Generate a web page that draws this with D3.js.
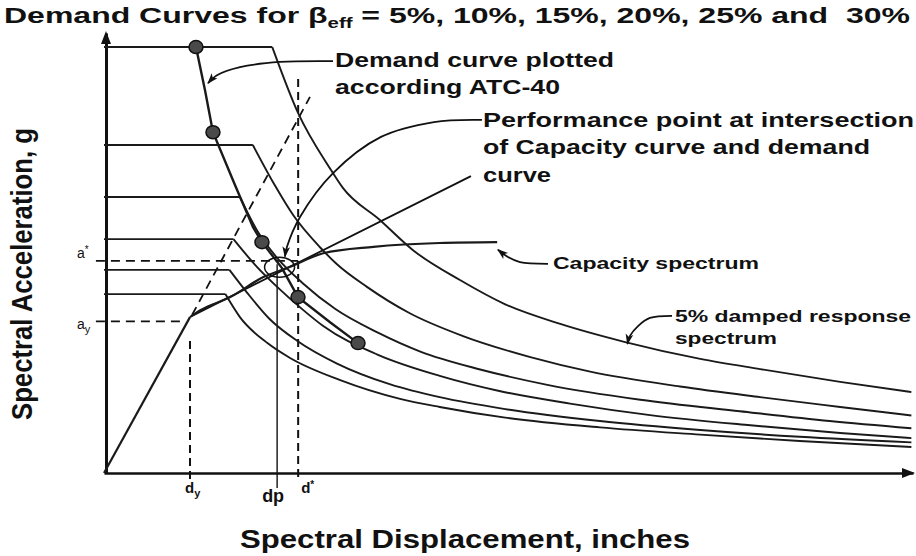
<!DOCTYPE html>
<html>
<head>
<meta charset="utf-8">
<script src="https://cdn.jsdelivr.net/npm/d3@7"></script>
<style>
  body { margin: 0; background: #fff; }
  text { font-family: "Liberation Sans", Arial, sans-serif; fill: #111; }
</style>
</head>
<body>
<div id="chart"></div>
<script>
var svgWidth = 916;
var svgHeight = 556;

// demand spectra, [Sd (in), Sa (g)]
var demand5  = [[0,1.00],[2.08,1.00],[2.40,0.845],[2.79,0.716],[2.95,0.670],[3.41,0.594],[3.82,0.523],[4.40,0.453],[4.96,0.396],[5.64,0.350],[6.43,0.308],[7.37,0.268],[8.11,0.244],[9.10,0.214],[9.98,0.190]];
var demand10 = [[0,0.770],[1.84,0.770],[2.11,0.676],[2.34,0.605],[2.67,0.530],[2.88,0.490],[3.25,0.437],[3.78,0.375],[4.43,0.322],[5.27,0.272],[6.01,0.238],[7.12,0.203],[8.11,0.178],[9.10,0.155],[9.98,0.135]];
var demand15 = [[0,0.648],[1.68,0.648],[1.89,0.570],[2.14,0.505],[2.46,0.445],[2.86,0.385],[3.38,0.330],[3.91,0.285],[4.65,0.243],[5.48,0.207],[6.63,0.172],[7.86,0.145],[8.97,0.122],[9.98,0.105]];
var demand20 = [[0,0.549],[1.60,0.549],[1.89,0.484],[2.14,0.437],[2.46,0.383],[2.71,0.345],[3.38,0.278],[4.15,0.228],[4.90,0.192],[5.76,0.163],[6.75,0.136],[7.99,0.112],[9.10,0.094],[9.98,0.082]];
var demand25 = [[0,0.477],[1.55,0.477],[1.77,0.423],[2.05,0.361],[2.39,0.310],[2.88,0.257],[3.54,0.208],[4.15,0.178],[4.96,0.150],[6.13,0.122],[7.37,0.101],[8.60,0.085],[9.98,0.072]];
var demand30 = [[0,0.420],[1.50,0.420],[1.68,0.366],[2.02,0.305],[2.30,0.270],[2.92,0.218],[3.66,0.174],[4.15,0.155],[4.96,0.130],[6.13,0.107],[7.37,0.090],[8.60,0.075],[9.98,0.061]];

var capacity = [[0,0],[1.063,0.366],[1.19,0.382],[1.56,0.413],[1.97,0.460],[2.30,0.484],[2.71,0.516],[3.33,0.531],[4.15,0.540],[4.86,0.542]];

// demand curve plotted per ATC-40 and its dots
var atc40 = [[1.137,1.000],[1.248,0.899],[1.347,0.800],[1.619,0.676],[1.842,0.577],[1.953,0.542],[2.200,0.481],[2.398,0.413],[2.794,0.354],[3.140,0.305]];
var atc40Dots = [[1.137,1.000],[1.347,0.800],[1.953,0.542],[2.398,0.413],[3.140,0.305]];

var perfPoint = [2.17, 0.483];
var yieldPoint = [1.063, 0.371];
var aStar = 0.498, dStar = 2.40, dP = 2.14;
var dashedSlope = [[1.088, 0.371], [2.546, 0.883]];
var secant = [[1.088, 0.369], [4.536, 0.697]];

// annotation leaders
var leaderDemand = [[2.831,0.967],[2.176,0.965],[1.681,0.953],[1.397,0.934],[1.286,0.915]];
var leaderPerf = [[4.672,0.829],[4.079,0.824],[3.424,0.789],[2.831,0.704],[2.423,0.601],[2.262,0.531],[2.237,0.508]];
var leaderCap = [[5.488,0.491],[5.142,0.495],[4.994,0.507],[4.870,0.524]];
var leaderDamped = [[7.021,0.369],[6.749,0.364],[6.601,0.345],[6.502,0.322],[6.470,0.303]];

///////////////////////////////////////////////////////////////////////

var svg = d3.select("#chart")
  .append("svg")
  .attr("width", svgWidth)
  .attr("height", svgHeight);

var defs = svg.append("defs");
defs.append("marker")
  .attr("id", "arr")
  .attr("viewBox", "0 0 10 10")
  .attr("refX", 9).attr("refY", 5)
  .attr("markerWidth", 11).attr("markerHeight", 11)
  .attr("markerUnits", "userSpaceOnUse")
  .attr("orient", "auto")
  .append("path")
  .attr("d", "M0,1.5L10,5L0,8.5L2.5,5z")
  .attr("fill", "#111");

var x = d3.scaleLinear().domain([0, 10]).range([104, 913]);
var y = d3.scaleLinear().domain([0, 1.033]).range([473, 33]);

var line = d3.line().x(d => x(d[0])).y(d => y(d[1]));
var smooth = d3.line().x(d => x(d[0])).y(d => y(d[1])).curve(d3.curveMonotoneX);
var bendy = d3.line().x(d => x(d[0])).y(d => y(d[1])).curve(d3.curveCatmullRom.alpha(0.5));

// axes
svg.append("g")
  .attr("transform", `translate(0, ${y(0)})`)
  .call(d3.axisBottom(x).tickValues([]).tickSizeOuter(0))
  .select(".domain").attr("stroke", "#111").attr("stroke-width", 2.5);

svg.append("g")
  .attr("transform", `translate(${x(0) + 2}, 0)`)
  .call(d3.axisLeft(y).tickValues([]).tickSizeOuter(0))
  .select(".domain").attr("stroke", "#111").attr("stroke-width", 3);

svg.append("path")
  .attr("d", `M${x(10) + 2},${y(0)}l-13,-5l0,10z`)
  .attr("fill", "#111");
svg.append("path")
  .attr("d", `M${x(0) + 2},${y(1.033) - 2}l-5,13l10,0z`)
  .attr("fill", "#111");

// guide lines
var guides = svg.append("g").attr("stroke", "#111").attr("fill", "none");
guides.append("path").attr("d", line([[-0.1, aStar], [dStar, aStar]]))
  .attr("stroke-width", 1.6).attr("stroke-dasharray", "9,6");
guides.append("path").attr("d", line([[-0.1, yieldPoint[1] - 0.015], [yieldPoint[0] - 0.1, yieldPoint[1] - 0.015]]))
  .attr("stroke-width", 1.6).attr("stroke-dasharray", "9,6");
guides.append("path").attr("d", line([[yieldPoint[0], 0.31], [yieldPoint[0], -0.015]]))
  .attr("stroke-width", 2).attr("stroke-dasharray", "8,5");
guides.append("path").attr("d", line([[dStar, 0.925], [dStar, -0.02]]))
  .attr("stroke-width", 2).attr("stroke-dasharray", "8,5");
guides.append("path").attr("d", line(dashedSlope))
  .attr("stroke-width", 1.8).attr("stroke-dasharray", "9,6");
guides.append("path").attr("d", line([[dP, 0.49], [dP, -0.035]]))
  .attr("stroke-width", 1.4);
guides.append("path").attr("d", line(secant))
  .attr("stroke-width", 1.8);

// demand spectra: plateau straight, rest smooth
var demands = [demand5, demand10, demand15, demand20, demand25, demand30];
var curves = svg.append("g").attr("fill", "none").attr("stroke", "#1a1a1a").attr("stroke-width", 1.9);
demands.forEach(function(c) {
  curves.append("path").attr("d", line(c.slice(0, 2)));
  curves.append("path").attr("d", smooth(c.slice(1)));
});

// capacity spectrum
curves.append("path").attr("d", line(capacity.slice(0, 2))).attr("stroke-width", 2.2);
curves.append("path").attr("d", smooth(capacity.slice(1))).attr("stroke-width", 2.2);

// ATC-40 demand curve
curves.append("path").attr("d", line(atc40)).attr("stroke-width", 2.4);

svg.selectAll(".dot")
  .data(atc40Dots)
  .enter()
  .append("ellipse")
  .attr("class", "dot")
  .attr("cx", d => x(d[0]))
  .attr("cy", d => y(d[1]))
  .attr("rx", 7)
  .attr("ry", 6.5)
  .attr("fill", "#4a4a4a")
  .attr("stroke", "#111")
  .attr("stroke-width", 1.5);

// performance point
svg.append("ellipse")
  .attr("cx", x(perfPoint[0]))
  .attr("cy", y(perfPoint[1]))
  .attr("rx", 15).attr("ry", 10)
  .attr("fill", "none").attr("stroke", "#111").attr("stroke-width", 1.5);

// leaders
var leaders = svg.append("g").attr("fill", "none").attr("stroke", "#111").attr("stroke-width", 1.8);
[leaderDemand, leaderPerf, leaderCap, leaderDamped].forEach(function(l) {
  leaders.append("path").attr("d", bendy(l)).attr("marker-end", "url(#arr)");
});

// texts
svg.append("text")
  .attr("x", 4).attr("y", 23)
  .attr("font-size", 22).attr("font-weight", "bold")
  .attr("textLength", 906).attr("lengthAdjust", "spacingAndGlyphs")
  .style("white-space", "pre")
  .html('Demand Curves for <tspan>β</tspan><tspan font-size="14" dy="5">eff</tspan><tspan dy="-5"> = 5%, 10%, 15%, 20%, 25% and  30%</tspan>');

var notes = [
  {t: "Demand curve plotted", x: 335, y: 67, len: 279, fs: 20},
  {t: "according ATC-40", x: 335, y: 94, len: 225, fs: 20},
  {t: "Performance point at intersection", x: 483, y: 127, len: 431, fs: 20},
  {t: "of Capacity curve and demand", x: 483, y: 154, len: 387, fs: 20},
  {t: "curve", x: 483, y: 182, len: 68, fs: 20},
  {t: "Capacity spectrum", x: 553, y: 269, len: 206, fs: 17},
  {t: "5% damped response", x: 675, y: 322, len: 236, fs: 17},
  {t: "spectrum", x: 675, y: 344, len: 102, fs: 17},
  {t: "Spectral Displacement, inches", x: 240, y: 548, len: 450, fs: 26}
];
svg.selectAll(".note")
  .data(notes)
  .enter()
  .append("text")
  .attr("class", "note")
  .attr("x", d => d.x).attr("y", d => d.y)
  .attr("font-size", d => d.fs).attr("font-weight", "bold")
  .attr("textLength", d => d.len).attr("lengthAdjust", "spacingAndGlyphs")
  .text(d => d.t);

svg.append("text")
  .attr("transform", "translate(32, 274) rotate(-90)")
  .attr("text-anchor", "middle")
  .attr("font-size", 30).attr("font-weight", "bold")
  .attr("textLength", 292).attr("lengthAdjust", "spacingAndGlyphs")
  .text("Spectral Acceleration, g");

// axis point labels
svg.append("text").attr("x", x(yieldPoint[0]) - 5).attr("y", 493).attr("font-size", 15).attr("font-weight", "bold")
  .html('d<tspan font-size="11" dy="4">y</tspan>');
svg.append("text").attr("x", x(dP) - 15).attr("y", 502).attr("font-size", 18).attr("font-weight", "bold")
  .text("dp");
svg.append("text").attr("x", x(dStar) + 3).attr("y", 493).attr("font-size", 15).attr("font-weight", "bold")
  .html('d<tspan font-size="10" dy="-5">*</tspan>');
svg.append("text").attr("x", 77).attr("y", y(aStar) - 3).attr("font-size", 14)
  .html('a<tspan font-size="10" dy="-5">*</tspan>');
svg.append("text").attr("x", 77).attr("y", y(yieldPoint[1]) + 14).attr("font-size", 14)
  .html('a<tspan font-size="11" dy="4">y</tspan>');
</script>
</body>
</html>
